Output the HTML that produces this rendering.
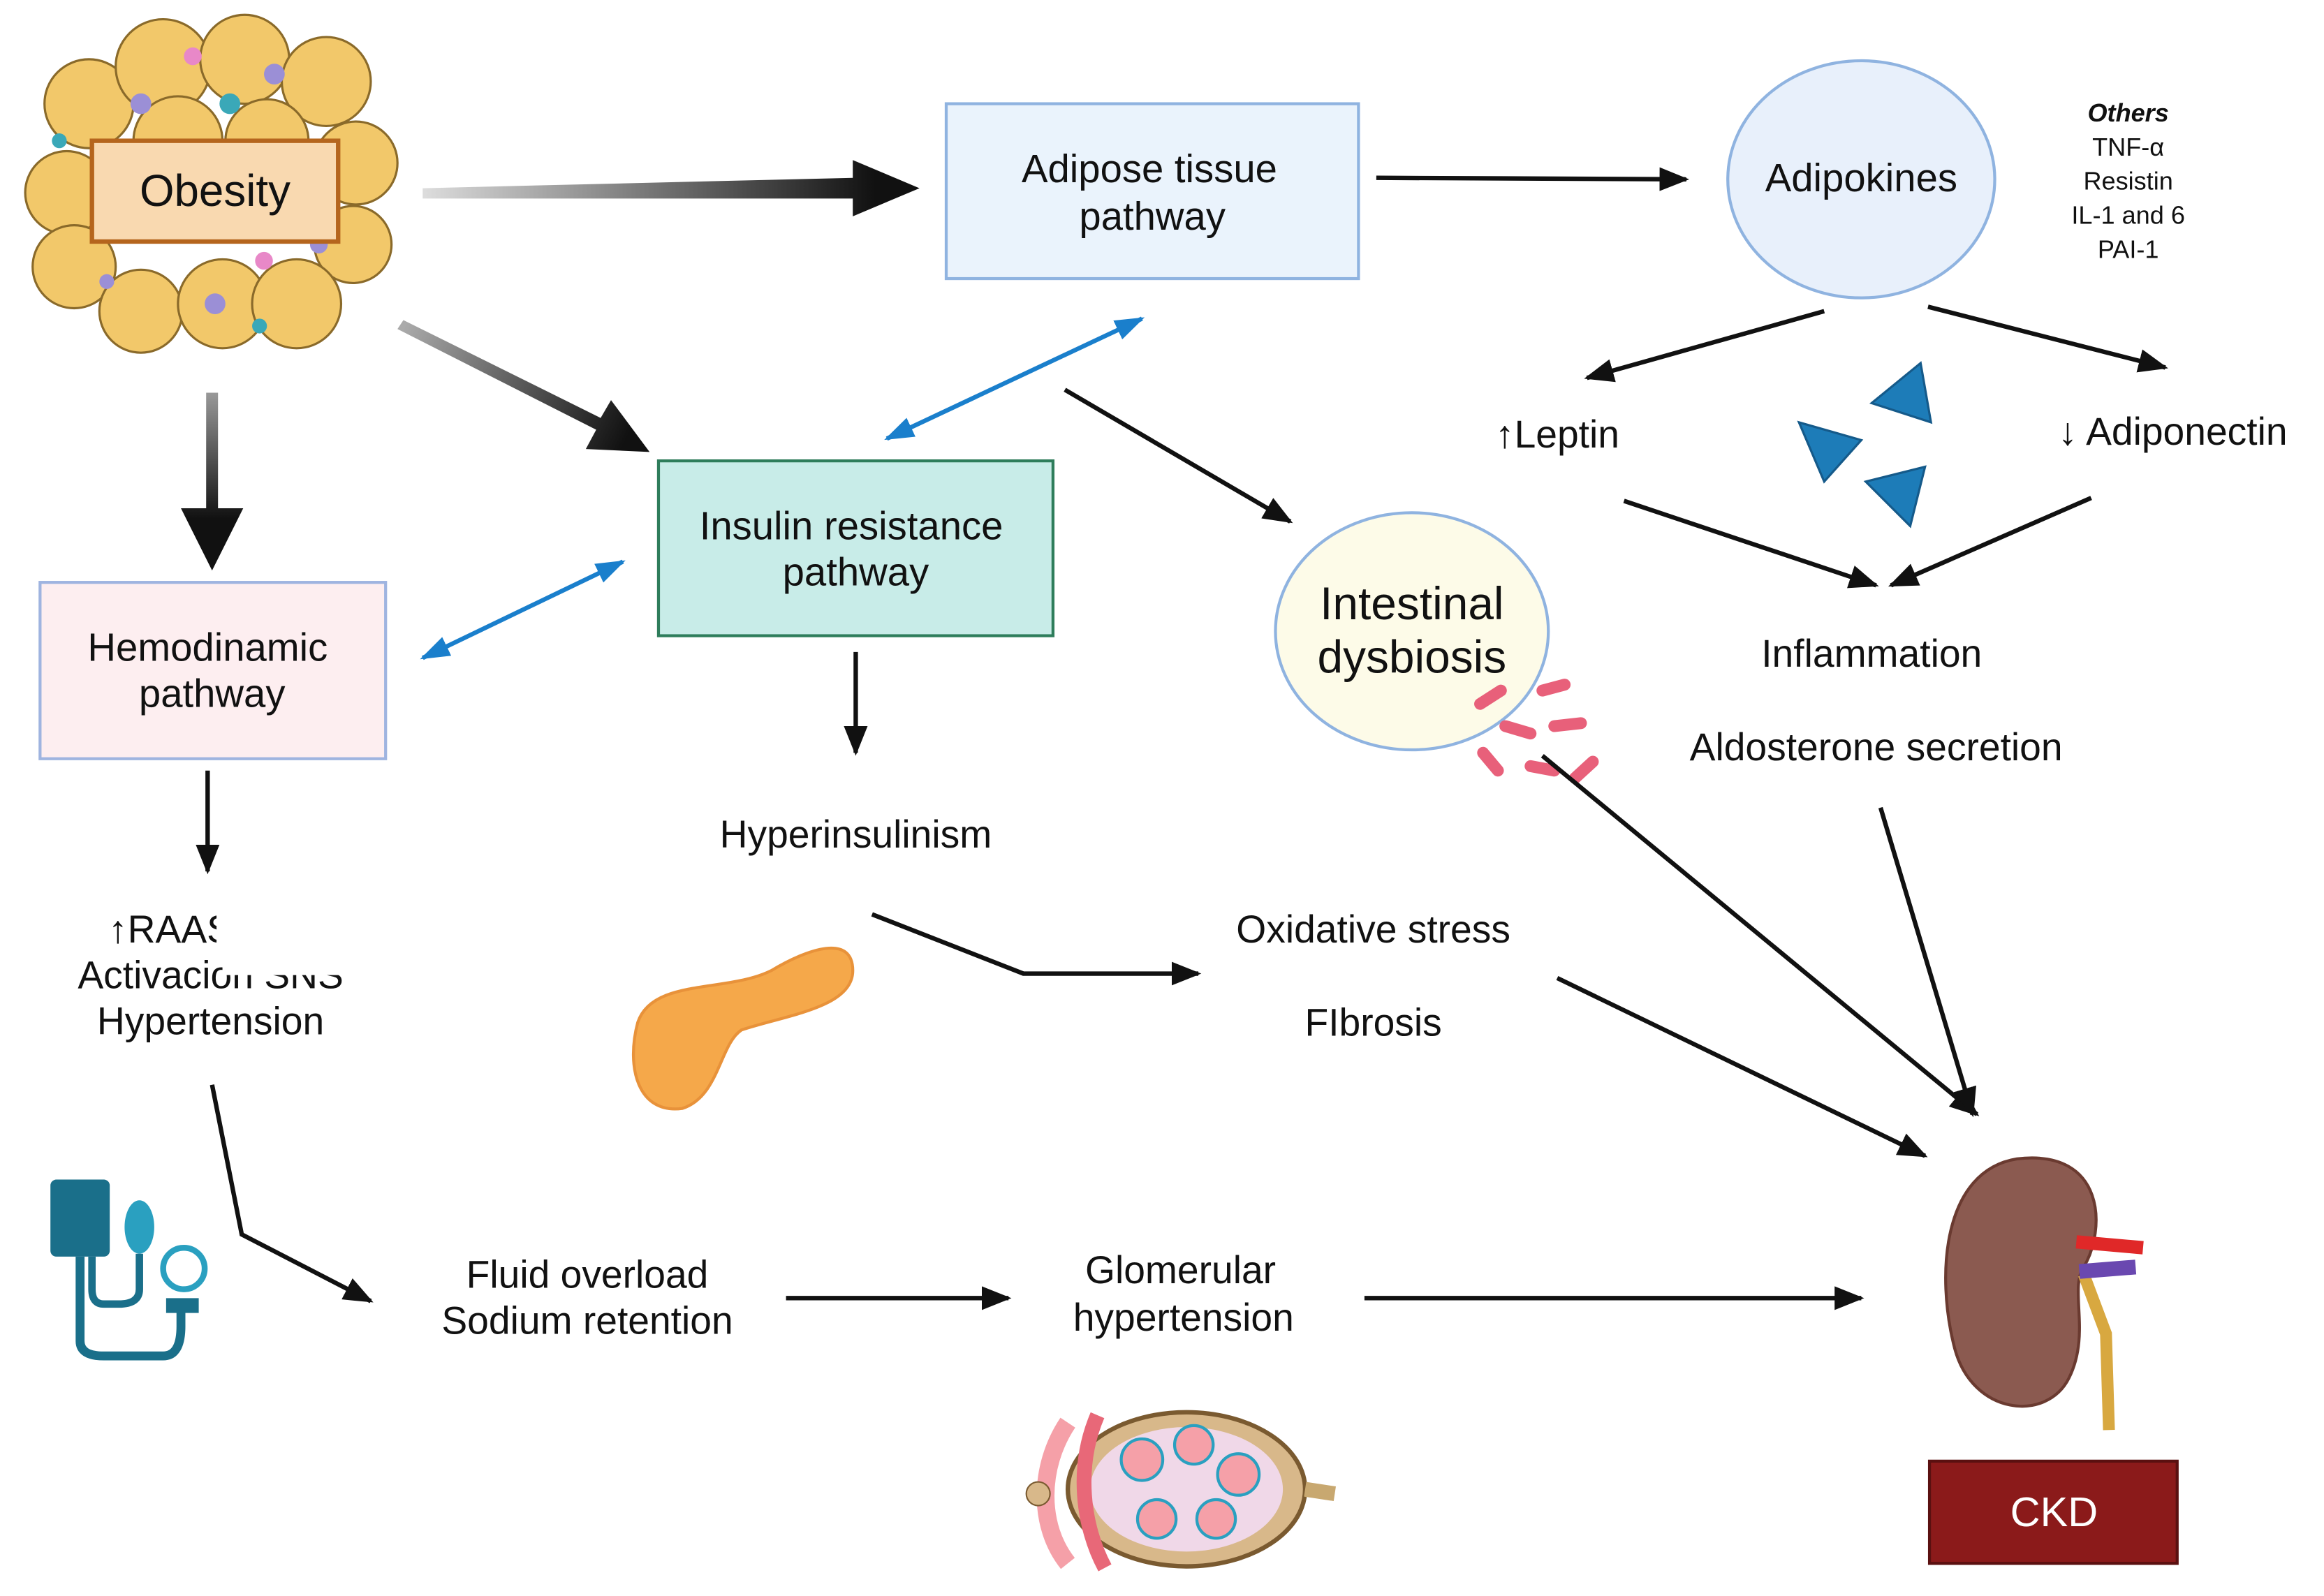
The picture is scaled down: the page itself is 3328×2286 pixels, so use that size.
<!DOCTYPE html>
<html><head><meta charset="utf-8"><style>
html,body{margin:0;padding:0;background:#fff;}
svg{display:block;}
text{font-family:"Liberation Sans",sans-serif;fill:#111;}
</style></head><body>
<svg width="3328" height="2286" viewBox="0 0 1567 1077" preserveAspectRatio="none" xmlns="http://www.w3.org/2000/svg">
<defs>
<linearGradient id="g1" gradientUnits="userSpaceOnUse" x1="285" y1="0" x2="590" y2="0"><stop offset="0" stop-color="#ddd"/><stop offset="1" stop-color="#111"/></linearGradient>
<linearGradient id="g2" gradientUnits="userSpaceOnUse" x1="270" y1="225" x2="420" y2="300"><stop offset="0" stop-color="#aaa"/><stop offset="1" stop-color="#111"/></linearGradient>
<linearGradient id="g3" gradientUnits="userSpaceOnUse" x1="0" y1="265" x2="0" y2="350"><stop offset="0" stop-color="#999"/><stop offset="1" stop-color="#111"/></linearGradient>
<marker id="a" viewBox="0 0 10 10" markerWidth="20" markerHeight="16" refX="9" refY="5" orient="auto" markerUnits="userSpaceOnUse" preserveAspectRatio="none"><path d="M0,0 L10,5 L0,10 Z" fill="#111"/></marker>
<marker id="ab" viewBox="0 0 10 10" markerWidth="20" markerHeight="14" refX="9" refY="5" orient="auto-start-reverse" markerUnits="userSpaceOnUse" preserveAspectRatio="none"><path d="M0,0 L10,5 L0,10 Z" fill="#1a7fcc"/></marker>
</defs>

<g stroke="#8a6a2a" stroke-width="1.5" fill="#f2c86a">
<circle cx="60" cy="70" r="30"/><circle cx="110" cy="45" r="32"/><circle cx="165" cy="40" r="30"/><circle cx="220" cy="55" r="30"/>
<circle cx="45" cy="130" r="28"/><circle cx="240" cy="110" r="28"/><circle cx="238" cy="165" r="26"/><circle cx="50" cy="180" r="28"/>
<circle cx="95" cy="210" r="28"/><circle cx="150" cy="205" r="30"/><circle cx="200" cy="205" r="30"/><circle cx="120" cy="95" r="30"/><circle cx="180" cy="95" r="28"/>
</g>
<g fill="#9b8fd6"><circle cx="95" cy="70" r="7"/><circle cx="185" cy="50" r="7"/><circle cx="145" cy="205" r="7"/><circle cx="215" cy="165" r="6"/><circle cx="72" cy="190" r="5"/></g>
<g fill="#3aa8b8"><circle cx="155" cy="70" r="7"/><circle cx="40" cy="95" r="5"/><circle cx="175" cy="220" r="5"/></g>
<g fill="#e888c8"><circle cx="130" cy="38" r="6"/><circle cx="178" cy="176" r="6"/></g>
<rect x="62" y="95" width="166" height="68" fill="#f9d9b0" stroke="#b5651d" stroke-width="3"/>
<text x="145" y="139" font-size="30" text-anchor="middle">Obesity</text>

<polygon points="285,127 575,120 575,108 620,127 575,146 575,134 285,134" fill="url(#g1)"/>
<polygon points="268,222 272,216 405,282 412,270 438,305 395,303 402,290" fill="url(#g2)"/>
<polygon points="139,265 147,265 147,343 164,343 143,385 122,343 139,343" fill="url(#g3)"/>

<rect x="638" y="70" width="278" height="118" fill="#eaf3fc" stroke="#8fb3e0" stroke-width="2"/>
<text x="775" y="123" font-size="26.5" text-anchor="middle">Adipose tissue</text>
<text x="777" y="155" font-size="26.5" text-anchor="middle">pathway</text>
<ellipse cx="1255" cy="121" rx="90" ry="80" fill="#e8f0fb" stroke="#8fb3e0" stroke-width="2"/>
<text x="1255" y="129" font-size="26.5" text-anchor="middle">Adipokines</text>
<text x="1435" y="82" font-size="17" text-anchor="middle" font-weight="bold" font-style="italic">Others</text>
<text x="1435" y="105" font-size="17" text-anchor="middle">TNF-α</text>
<text x="1435" y="128" font-size="17" text-anchor="middle">Resistin</text>
<text x="1435" y="151" font-size="17" text-anchor="middle">IL-1 and 6</text>
<text x="1435" y="174" font-size="17" text-anchor="middle">PAI-1</text>

<rect x="444" y="311" width="266" height="118" fill="#c8ece8" stroke="#2e7d5b" stroke-width="2"/>
<text x="574" y="364" font-size="26.5" text-anchor="middle">Insulin resistance</text>
<text x="577" y="395" font-size="26.5" text-anchor="middle">pathway</text>
<rect x="27" y="393" width="233" height="119" fill="#fdeef0" stroke="#9fb4e0" stroke-width="2"/>
<text x="140" y="446" font-size="26.5" text-anchor="middle">Hemodinamic</text>
<text x="143" y="477" font-size="26.5" text-anchor="middle">pathway</text>
<ellipse cx="952" cy="426" rx="92" ry="80" fill="#fdfbe8" stroke="#8fb3e0" stroke-width="2"/>
<text x="952" y="418" font-size="31" text-anchor="middle">Intestinal</text>
<text x="952" y="454" font-size="31" text-anchor="middle">dysbiosis</text>
<g stroke="#e8607a" stroke-width="8" stroke-linecap="round">
<line x1="998" y1="475" x2="1012" y2="466"/><line x1="1040" y1="466" x2="1055" y2="462"/><line x1="1015" y1="490" x2="1032" y2="495"/><line x1="1048" y1="490" x2="1066" y2="488"/>
<line x1="1000" y1="508" x2="1010" y2="520"/><line x1="1032" y1="517" x2="1048" y2="520"/><line x1="1062" y1="525" x2="1074" y2="514"/>
</g>

<g stroke="#111" stroke-width="3" fill="none" marker-end="url(#a)">
<line x1="928" y1="120" x2="1137" y2="121"/>
<line x1="718" y1="263" x2="870" y2="352"/>
<line x1="1230" y1="210" x2="1070" y2="255"/>
<line x1="1300" y1="207" x2="1460" y2="248"/>
<line x1="1095" y1="338" x2="1265" y2="395"/>
<line x1="1410" y1="336" x2="1275" y2="395"/>
<line x1="577" y1="440" x2="577" y2="508"/>
<line x1="140" y1="520" x2="140" y2="588"/>
<polyline points="588,617 690,657 808,657"/>
<line x1="1040" y1="510" x2="1333" y2="752"/>
<line x1="1268" y1="545" x2="1330" y2="752"/>
<line x1="1050" y1="660" x2="1298" y2="780"/>
<polyline points="143,732 163,833 250,878"/>
<line x1="530" y1="876" x2="680" y2="876"/>
<line x1="920" y1="876" x2="1255" y2="876"/>
</g>
<g stroke="#1a7fcc" stroke-width="3" marker-end="url(#ab)" marker-start="url(#ab)">
<line x1="598" y1="296" x2="770" y2="215"/>
<line x1="285" y1="444" x2="420" y2="379"/>
</g>

<g fill="#1d7cb8" stroke="#155a8a" stroke-width="1.5">
<polygon points="1262,272 1295,245 1302,285"/>
<polygon points="1213,285 1255,297 1230,325"/>
<polygon points="1258,325 1298,315 1288,355"/>
</g>

<g font-size="26" text-anchor="middle">
<text x="1050" y="302">↑Leptin</text>
<text x="1465" y="300">↓ Adiponectin</text>
<text x="1262" y="450">Inflammation</text>
<text x="1265" y="513">Aldosterone secretion</text>
<text x="577" y="572">Hyperinsulinism</text>
<text x="926" y="636">Oxidative stress</text>
<text x="926" y="699">FIbrosis</text>
<text x="73" y="636" text-anchor="start">↑RAAS activation</text>
<text x="142" y="667">Activacion SNS</text>
<text x="142" y="698">Hypertension</text>
<text x="396" y="869">Fluid overload</text>
<text x="396" y="900">Sodium retention</text>
<text x="796" y="866">Glomerular</text>
<text x="798" y="898">hypertension</text>
</g>
<rect x="146" y="606" width="200" height="34" fill="#fff"/>
<rect x="155" y="640" width="100" height="8" fill="#fff"/>
<rect x="150" y="648" width="95" height="10" fill="#fff"/>

<path d="M430,690 C440,660 490,670 520,655 C545,640 575,630 575,655 C575,680 530,685 500,695 C485,705 485,740 460,748 C430,752 422,720 430,690 Z" fill="#f5a84a" stroke="#e8923a" stroke-width="2"/>

<rect x="34" y="796" width="40" height="52" rx="4" fill="#1a6f8a"/>
<ellipse cx="94" cy="828" rx="10" ry="18" fill="#2aa0c0"/>
<path d="M54,848 L54,905 Q54,915 70,915 L110,915 Q122,915 122,895 L122,880" fill="none" stroke="#1a6f8a" stroke-width="6"/>
<path d="M94,846 L94,870 Q94,880 80,880 L70,880 Q62,880 62,870 L62,848" fill="none" stroke="#1a6f8a" stroke-width="5"/>
<circle cx="124" cy="856" r="14" fill="#fff" stroke="#2aa0c0" stroke-width="4"/>
<rect x="112" y="876" width="22" height="10" fill="#1a6f8a"/>

<ellipse cx="800" cy="1005" rx="80" ry="52" fill="#d8b88a" stroke="#7a5a30" stroke-width="3"/>
<ellipse cx="800" cy="1005" rx="65" ry="42" fill="#f0d8e8"/>
<g fill="#f5a0a8" stroke="#2aa0c0" stroke-width="2">
<circle cx="770" cy="985" r="14"/><circle cx="805" cy="975" r="13"/><circle cx="835" cy="995" r="14"/><circle cx="820" cy="1025" r="13"/><circle cx="780" cy="1025" r="13"/>
</g>
<path d="M720,960 C700,990 700,1030 720,1055" stroke="#f5a0a8" stroke-width="12" fill="none"/>
<path d="M740,955 C725,990 730,1030 745,1058" stroke="#e86878" stroke-width="10" fill="none"/>
<path d="M880,1005 L900,1008" stroke="#c8a870" stroke-width="10"/>
<circle cx="700" cy="1008" r="8" fill="#d8b88a" stroke="#7a5a30"/>

<path d="M1360,782 C1420,775 1420,830 1405,855 C1395,870 1410,900 1395,930 C1380,960 1330,955 1318,910 C1305,860 1310,790 1360,782 Z" fill="#8b5a50" stroke="#6a3a30" stroke-width="2"/>
<path d="M1405,860 L1420,900 L1422,965" stroke="#d8a840" stroke-width="8" fill="none"/>
<path d="M1400,838 L1445,842" stroke="#e02828" stroke-width="9"/>
<path d="M1402,858 L1440,855" stroke="#6a48b0" stroke-width="10"/>

<rect x="1301" y="986" width="167" height="69" fill="#8b1a1a" stroke="#5a1010" stroke-width="2"/>
<text x="1385" y="1030" font-size="28" text-anchor="middle" style="fill:#fff">CKD</text>
</svg>
</body></html>
